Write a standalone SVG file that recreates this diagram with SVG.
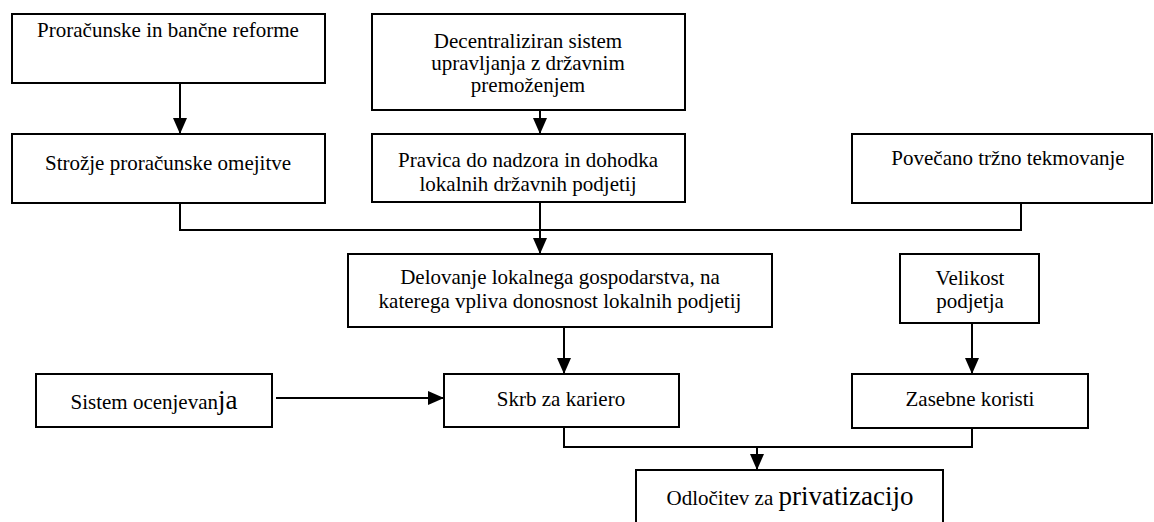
<svg xmlns="http://www.w3.org/2000/svg" width="1154" height="522" viewBox="0 0 1154 522">
  <style>
    .box { fill: #fff; stroke: #000; stroke-width: 2; }
    .t { font-family: "Liberation Serif", "DejaVu Serif", serif; font-size: 21px; fill: #000; text-anchor: middle; }
    .big { font-size: 27px; }
    .wire { fill: none; stroke: #000; stroke-width: 2; }
  </style>
  <defs>
    <marker id="ah" viewBox="0 0 16 14" refX="16" refY="7" markerWidth="16" markerHeight="14" orient="auto" markerUnits="userSpaceOnUse">
      <path d="M0,0 L16,7 L0,14 z" fill="#000"/>
    </marker>
  </defs>
  <rect width="1154" height="522" fill="#fff"/>

  <g id="connectors">
    <line class="wire" x1="180" y1="83" x2="180" y2="134" marker-end="url(#ah)"/>
    <line class="wire" x1="540" y1="111" x2="540" y2="134" marker-end="url(#ah)"/>
    <polyline class="wire" points="180,203 180,230 1021,230 1021,203"/>
    <line class="wire" x1="540" y1="203" x2="540" y2="254" marker-end="url(#ah)"/>
    <line class="wire" x1="564" y1="327" x2="564" y2="374" marker-end="url(#ah)"/>
    <line class="wire" x1="972" y1="323" x2="972" y2="374" marker-end="url(#ah)"/>
    <line class="wire" x1="276" y1="398" x2="444" y2="398" marker-end="url(#ah)"/>
    <polyline class="wire" points="564,421 564,447 972,447 972,421"/>
    <line class="wire" x1="757" y1="447" x2="757" y2="470" marker-end="url(#ah)"/>
  </g>

  <g id="n-reforme">
    <rect class="box" x="12" y="14" width="313" height="69"/>
    <text class="t" x="168" y="37" font-family="Liberation Serif, serif">Proračunske in bančne reforme</text>
  </g>
  <g id="n-omejitve">
    <rect class="box" x="12" y="134" width="313" height="69"/>
    <text class="t" x="168" y="170">Strožje proračunske omejitve</text>
  </g>
  <g id="n-decentraliziran">
    <rect class="box" x="372" y="14" width="313" height="96"/>
    <text class="t" x="528" y="48">Decentraliziran sistem</text>
    <text class="t" x="528" y="70">upravljanja z državnim</text>
    <text class="t" x="528" y="92">premoženjem</text>
  </g>
  <g id="n-pravica">
    <rect class="box" x="372" y="134" width="313" height="68"/>
    <text class="t" x="528" y="167">Pravica do nadzora in dohodka</text>
    <text class="t" x="528" y="191">lokalnih državnih podjetij</text>
  </g>
  <g id="n-tekmovanje">
    <rect class="box" x="852" y="134" width="300" height="69"/>
    <text class="t" x="1008" y="165">Povečano tržno tekmovanje</text>
  </g>
  <g id="n-delovanje">
    <rect class="box" x="348" y="254" width="424" height="73"/>
    <text class="t" x="560" y="284">Delovanje lokalnega gospodarstva, na</text>
    <text class="t" x="560" y="308">katerega vpliva donosnost lokalnih podjetij</text>
  </g>
  <g id="n-velikost">
    <rect class="box" x="900" y="254" width="139" height="69"/>
    <text class="t" x="970" y="285">Velikost</text>
    <text class="t" x="970" y="308">podjetja</text>
  </g>
  <g id="n-ocenjevanje">
    <rect class="box" x="36" y="374" width="236" height="53"/>
    <text class="t" x="154" y="409">Sistem ocenjevan<tspan class="big">ja</tspan></text>
  </g>
  <g id="n-kariera">
    <rect class="box" x="444" y="374" width="235" height="53"/>
    <text class="t" x="561" y="406">Skrb za kariero</text>
  </g>
  <g id="n-koristi">
    <rect class="box" x="852" y="374" width="236" height="54"/>
    <text class="t" x="970" y="406">Zasebne koristi</text>
  </g>
  <g id="n-odlocitev">
    <rect class="box" x="636" y="470" width="307" height="60"/>
    <text class="t" x="790" y="505">Odločitev za <tspan class="big">privatizacijo</tspan></text>
  </g>
</svg>
